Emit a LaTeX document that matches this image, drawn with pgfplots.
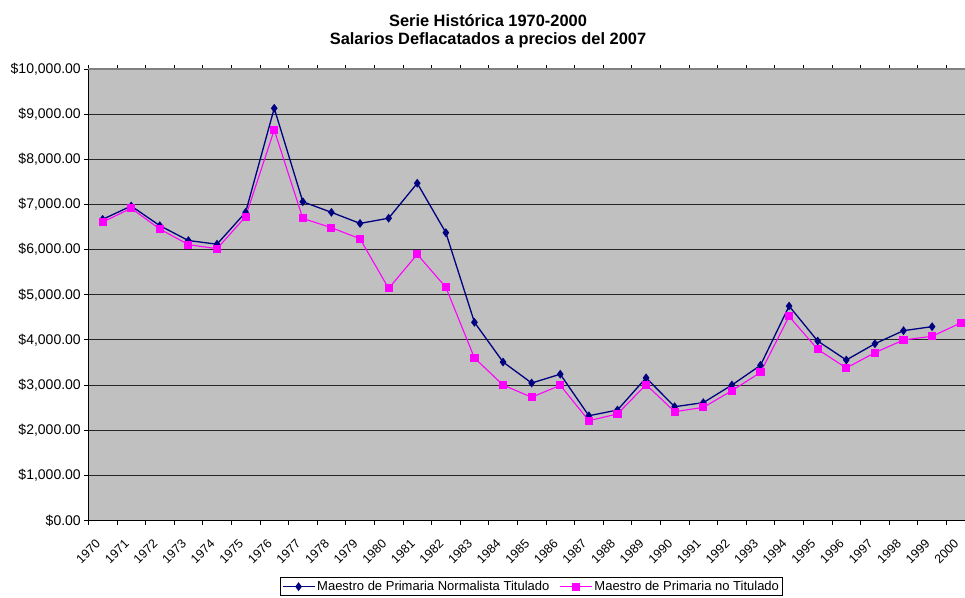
\documentclass[border=0pt]{standalone}
\usepackage{pgfplots}
\pgfplotsset{compat=1.18}
\usepackage{pgfplotstable}
\usepackage{fontspec}
\setmainfont{Liberation Sans}
\definecolor{navyc}{HTML}{000080}
\definecolor{magc}{HTML}{FF00FF}
\definecolor{plotbg}{HTML}{C0C0C0}
\pgfplotstableread{
x a
0 6670
1 6965
2 6530
3 6200
4 6120
5 6825
6 9130
7 7060
8 6825
9 6580
10 6695
11 7470
12 6375
13 4390
14 3510
15 3045
16 3240
17 2320
18 2447
19 3160
20 2520
21 2610
22 3000
23 3437
24 4750
25 3975
26 3555
27 3915
28 4205
29 4293
}\dataA
\pgfplotstableread{
x b
0 6610
1 6915
2 6455
3 6110
4 6020
5 6730
6 8650
7 6690
8 6485
9 6240
10 5140
11 5895
12 5165
13 3600
14 3000
15 2730
16 2995
17 2210
18 2360
19 3010
20 2410
21 2505
22 2875
23 3280
24 4520
25 3790
26 3378
27 3717
28 3998
29 4080
30 4375
}\dataB
\begin{document}
\begin{tikzpicture}
\useasboundingbox (0,0) rectangle (965pt,597pt);
\clip (0,0) rectangle (965pt,597pt);
\node[anchor=base, font=\fontsize{16.4}{18}\selectfont\bfseries] at (488pt,570.3pt) {Serie Histórica 1970-2000};
\node[anchor=base, font=\fontsize{16.4}{18}\selectfont\bfseries] at (488pt,552pt) {Salarios Deflacatados a precios del 2007};
\begin{axis}[
  scale only axis, width=886.7pt, height=451.5pt,
  anchor=south west, at={(88.3pt,76.5pt)},
  xmin=-0.5, xmax=30.5, ymin=0, ymax=10000,
  axis background/.style={fill=plotbg},
  axis line style={black, line width=1pt},
  tick align=outside,
  major tick length=4pt,
  tick style={black, line width=0.8pt},
  xtick={-0.5,0.5,...,30.5},
  xticklabels={},
  extra x ticks={0,1,...,30},
  extra x tick labels={1970,1971,1972,1973,1974,1975,1976,1977,1978,1979,1980,1981,1982,1983,1984,1985,1986,1987,1988,1989,1990,1991,1992,1993,1994,1995,1996,1997,1998,1999,2000},
  extra x tick style={major tick length=0pt, xticklabel style={xshift=-2pt, yshift=-18.5pt, rotate=45, anchor=east, font=\fontsize{12.5}{14}\selectfont}},
  ytick={0,1000,...,10000},
  scaled y ticks=false,
  /pgf/number format/assume math mode=true,
  yticklabel={\$\pgfmathprintnumber[fixed, fixed zerofill, precision=2, 1000 sep={,}]{\tick}},
  yticklabel style={font=\fontsize{14}{16}\selectfont},
  ymajorgrids=true,
  grid style={black!85, line width=1pt},
  legend style={at={(0.2162,-0.1258)}, anchor=north west, legend columns=2,
    font=\fontsize{13}{15}\selectfont, draw=black, line width=0.8pt, fill=white,
    inner sep=1.5pt,
    /tikz/every even column/.append style={column sep=8pt}},
  legend cell align=left,
  legend image code/.code={\draw[mark repeat=2,mark phase=2] plot coordinates {(0pt,0pt) (16pt,0pt) (32pt,0pt)};},
  after end axis/.code={\draw[color=gray, line width=1.3pt] (rel axis cs:0,1) -- (rel axis cs:1,1);},
]
\addplot[color=navyc, line width=1.3pt, mark=diamond*, mark size=3.4pt, mark options={solid, fill=navyc}] table[x=x, y=a] {\dataA};
\addlegendentry{Maestro de Primaria Normalista Titulado}
\addplot[color=magc, line width=1.1pt, mark=square*, mark size=3.5pt, mark options={solid, fill=magc}] table[x=x, y=b] {\dataB};
\addlegendentry{Maestro de Primaria no Titulado}
\end{axis}
\end{tikzpicture}
\end{document}
